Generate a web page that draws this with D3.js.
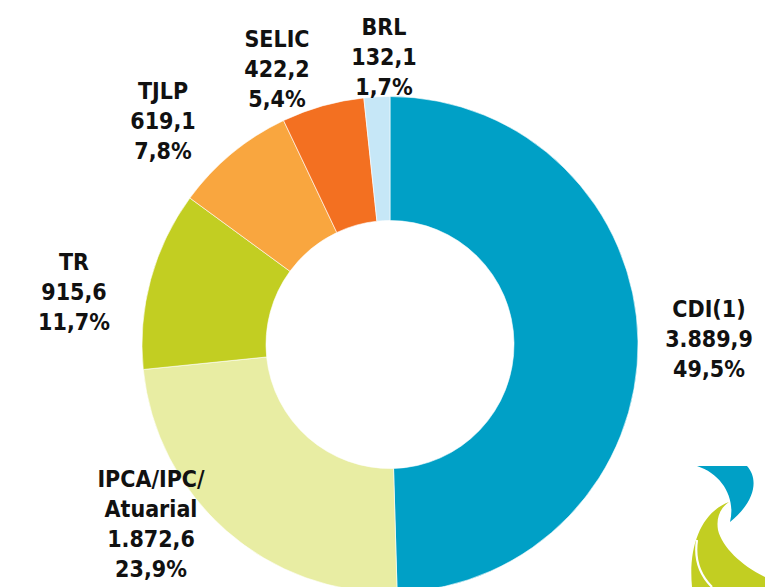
<!DOCTYPE html>
<html>
<head>
<meta charset="utf-8">
<script src="https://cdn.jsdelivr.net/npm/d3@7"></script>
<style>
  html, body { margin: 0; padding: 0; background: #fff; }
  svg { display: block; }
</style>
</head>
<body>
<svg width="765" height="587"></svg>
<script>
const width = 765,
  height = 587;

// data (R$ million), clockwise from 12 o'clock
const categories = ["CDI(1)", "IPCA/IPC/Atuarial", "TR", "TJLP", "SELIC", "BRL"];
const values = [3889.9, 1872.6, 915.6, 619.1, 422.2, 132.1];
const valueLabels = ["3.889,9", "1.872,6", "915,6", "619,1", "422,2", "132,1"];
const percentLabels = ["49,5%", "23,9%", "11,7%", "7,8%", "5,4%", "1,7%"];
const nameLines = [["CDI(1)"], ["IPCA/IPC/", "Atuarial"], ["TR"], ["TJLP"], ["SELIC"], ["BRL"]];

const sliceColors = ["#00A0C6", "#E8EDA3", "#C2CE22", "#F9A63F", "#F37021", "#C6E7F7"];

// layout
const cx = 390,
  cy = 344.5,
  outerR = 248,
  innerR = 124;

// where each label block sits (top baseline), by slice index
const labelAnchors = [
  [709, 317],
  [151, 487],
  [74, 270],
  [163, 99],
  [277, 47],
  [384, 35]
];
const lineHeight = 30;

const svg = d3.select("svg");

const pie = d3.pie().sort(null).value(d => d)(values);
const arc = d3.arc().innerRadius(innerR).outerRadius(outerR);

const g = svg.append("g").attr("transform", `translate(${cx},${cy})`);

g.selectAll("path")
  .data(pie)
  .enter()
  .append("path")
  .attr("d", arc)
  .attr("fill", (d, i) => sliceColors[i])
  .attr("stroke", "#fff")
  .attr("stroke-width", 0.6);

// labels: name lines, value, percent
const labels = svg
  .selectAll("text.lbl")
  .data(categories)
  .enter()
  .append("text")
  .attr("class", "lbl")
  .attr("text-anchor", "middle")
  .attr("font-family", "'DejaVu Sans Condensed', 'DejaVu Sans', sans-serif")
  .attr("font-stretch", "condensed")
  .attr("font-weight", "bold")
  .attr("font-size", 23)
  .attr("fill", "#111");

labels.each(function (d, i) {
  const lines = [...nameLines[i], valueLabels[i], percentLabels[i]];
  const [x, y] = labelAnchors[i];
  d3.select(this)
    .selectAll("tspan")
    .data(lines)
    .enter()
    .append("tspan")
    .attr("x", x)
    .attr("y", (t, j) => y + j * lineHeight)
    .text(t => t);
});

// company logo, bottom right corner
const logo = svg.append("g");
logo.append("path")
  .attr("d", "M697,466 L747,466 C758,478 757,500 730,522 C736,498 722,474 697,466 Z")
  .attr("fill", "#00A0C6");
logo.append("path")
  .attr("d", "M729,502 C702,512 688,545 692,587 L765,587 L765,577 C742,566 722,547 718,530 C716,518 720,508 729,502 Z")
  .attr("fill", "#C2CE22");
logo.append("path")
  .attr("d", "M697,540 C694,560 700,575 712,587")
  .attr("fill", "none")
  .attr("stroke", "#fff")
  .attr("stroke-width", 2.2);
</script>
</body>
</html>
